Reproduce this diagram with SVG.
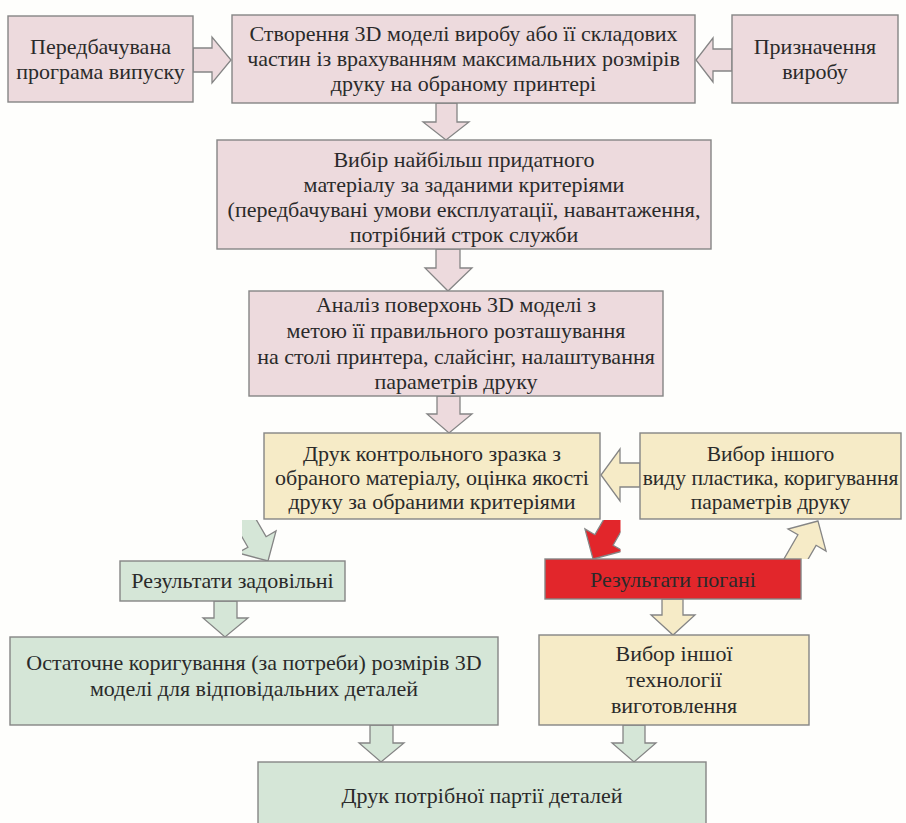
<svg xmlns="http://www.w3.org/2000/svg" width="906" height="823" viewBox="0 0 906 823">
<style>
.box{stroke:#858585;stroke-width:1.4}
.pink{fill:#eddadd}
.yel{fill:#f6ebc7}
.grn{fill:#d5e6d7}
.red{fill:#e2262b}
.arr{stroke:#858585;stroke-width:1.3;stroke-linejoin:miter}
text{font-family:"Liberation Serif","Times New Roman",serif;font-size:22px;fill:#2a2a2a;text-anchor:middle}
.sm{font-size:21.5px}
</style>
<defs>
<path id="diag" d="M0,0 L-22,-22 L-22,-10.5 L-70,-10.5 L-70,10.5 L-22,10.5 L-22,22 Z"/>
<clipPath id="clipG"><rect x="242" y="520" width="60" height="48"/></clipPath>
<clipPath id="clipR"><rect x="570" y="520" width="50.5" height="48"/></clipPath>
<clipPath id="clipY"><rect x="770" y="512" width="70" height="47"/></clipPath>
</defs>
<rect width="906" height="823" fill="#fefefc"/>
<g id="connectors">
<polygon class="arr pink" points="193,48 212,48 212,37 231,60 212,83 212,72 193,72"/>
<polygon class="arr pink" points="732,49 713,49 713,38 696,60 713,82 713,71 732,71"/>
<polygon class="arr pink" points="436,103 457,103 457,122 469,122 446,140 423,122 436,122"/>
<polygon class="arr pink" points="436,249 460,249 460,268 472,268 448,291 425,268 436,268"/>
<polygon class="arr pink" points="437,396 460,396 460,414 472,414 449,433 427,414 437,414"/>
<polygon class="arr yel" points="640,463 620,463 620,449 601,475 620,501 620,487 640,487"/>
<g clip-path="url(#clipG)"><use href="#diag" class="arr grn" transform="translate(268,561) rotate(60)"/></g>
<g clip-path="url(#clipR)"><use href="#diag" class="arr red" transform="translate(593,559) rotate(120)"/></g>
<g clip-path="url(#clipY)"><use href="#diag" class="arr yel" transform="translate(818,521) rotate(-60)"/></g>
<polygon class="arr grn" points="214,601 237,601 237,618 248,618 225,637 203,618 214,618"/>
<polygon class="arr yel" points="662,599 683,599 683,615 695,615 673,635 651,615 662,615"/>
<polygon class="arr grn" points="370,725 393,725 393,743 404,743 381,762 359,743 370,743"/>
<polygon class="arr grn" points="623,725 645,725 645,743 656,743 634,762 612,743 623,743"/>
</g>
<g id="n-program">
<rect class="box pink" x="8" y="16" width="185" height="86"/>
<text x="100.5" y="54">Передбачувана</text>
<text x="100.5" y="79">програма випуску</text>
</g>
<g id="n-model">
<rect class="box pink" x="232" y="15" width="463" height="88"/>
<text x="463.5" y="41">Створення 3D моделі виробу або її складових</text>
<text x="463.5" y="66">частин із врахуванням максимальних розмірів</text>
<text x="463.5" y="91">друку на обраному принтері</text>
</g>
<g id="n-purpose">
<rect class="box pink" x="732" y="15" width="166" height="88"/>
<text x="815" y="54">Призначення</text>
<text x="815" y="79">виробу</text>
</g>
<g id="n-material">
<rect class="box pink" x="217" y="140" width="494" height="109"/>
<text x="464" y="167">Вибір найбільш придатного</text>
<text x="464" y="192">матеріалу за заданими критеріями</text>
<text x="464" y="217">(передбачувані умови експлуатації, навантаження,</text>
<text x="464" y="242">потрібний строк служби</text>
</g>
<g id="n-analysis">
<rect class="box pink" x="249" y="291" width="414" height="105"/>
<text x="456" y="312">Аналіз поверхонь 3D моделі з</text>
<text x="456" y="338">метою її правильного розташування</text>
<text x="456" y="364">на столі принтера, слайсінг, налаштування</text>
<text x="456" y="389">параметрів друку</text>
</g>
<g id="n-sample">
<rect class="box yel" x="264" y="433" width="336" height="86"/>
<text x="432" y="461">Друк контрольного зразка з</text>
<text x="432" y="485">обраного матеріалу, оцінка якості</text>
<text x="432" y="509">друку за обраними критеріями</text>
</g>
<g id="n-plastic">
<rect class="box yel" x="640" y="433" width="261" height="86"/>
<text class="sm" x="770.5" y="461">Вибор іншого</text>
<text class="sm" x="770.5" y="485">виду пластика, коригування</text>
<text class="sm" x="770.5" y="509">параметрів друку</text>
</g>
<g id="n-good">
<rect class="box grn" x="120" y="561" width="225" height="40"/>
<text x="232.5" y="588">Результати задовільні</text>
</g>
<g id="n-bad">
<rect class="box red" x="545" y="559" width="256" height="40"/>
<text x="673" y="587">Результати погані</text>
</g>
<g id="n-final">
<rect class="box grn" x="10" y="637" width="488" height="88"/>
<text x="254" y="670">Остаточне коригування (за потреби) розмірів 3D</text>
<text x="254" y="696">моделі для відповідальних деталей</text>
</g>
<g id="n-tech">
<rect class="box yel" x="539" y="635" width="270" height="90"/>
<text x="674" y="661">Вибор іншої</text>
<text x="674" y="687">технології</text>
<text x="674" y="713">виготовлення</text>
</g>
<g id="n-batch">
<rect class="box grn" x="258" y="762" width="448" height="70"/>
<text x="482" y="803">Друк потрібної партії деталей</text>
</g>
</svg>
